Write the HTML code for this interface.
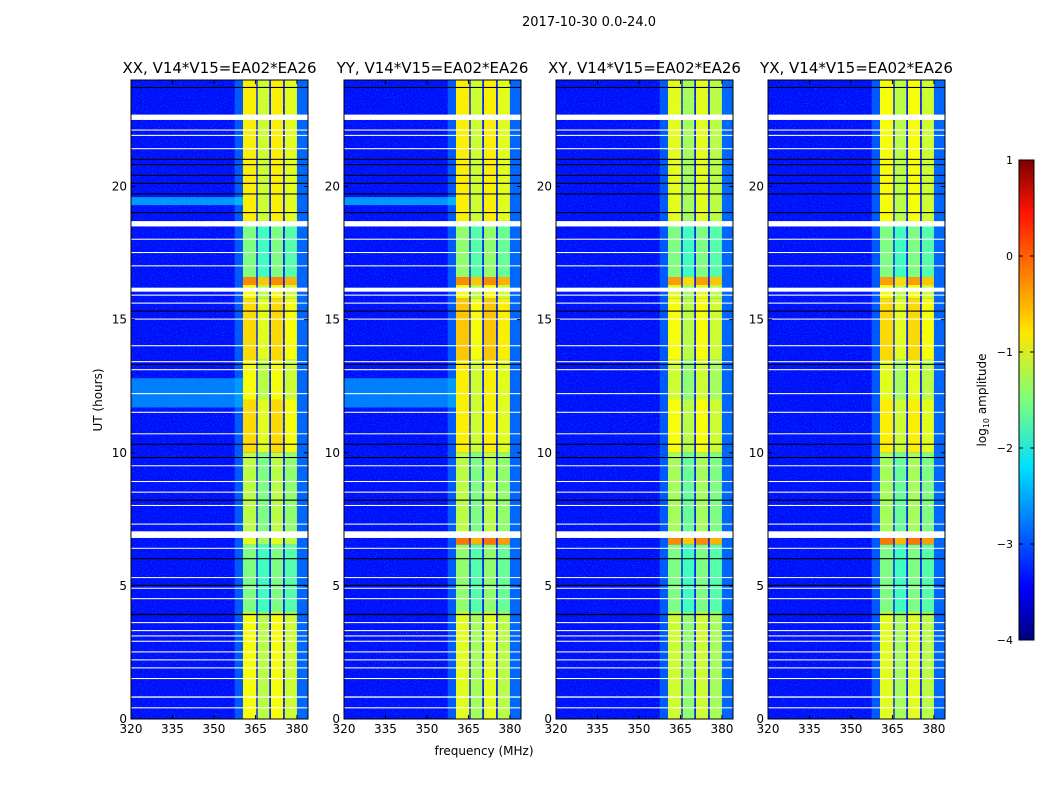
<!DOCTYPE html>
<html><head><meta charset="utf-8"><style>
body{margin:0;background:#fff;font-family:"Liberation Sans",sans-serif}
svg text{font-family:"DejaVu Sans","Liberation Sans",sans-serif}
</style></head><body>
<svg id="s" width="1050" height="800" xmlns="http://www.w3.org/2000/svg">
<defs>
<filter id="nz" x="0" y="0" width="100%" height="100%"><feTurbulence type="fractalNoise" baseFrequency="0.9" numOctaves="1" seed="3"/><feColorMatrix type="matrix" values="0 0 0 0 0.0  0 0 0 0 0.45  0 0 0 0 1  0 0 0 3 -1.6"/></filter>
<filter id="nzd" x="0" y="0" width="100%" height="100%"><feTurbulence type="fractalNoise" baseFrequency="0.8" numOctaves="1" seed="9"/><feColorMatrix type="matrix" values="0 0 0 0 0  0 0 0 0 0  0 0 0 0 0.5  0 0 0 3 -1.5"/></filter>
<linearGradient id="cbg" x1="0" y1="1" x2="0" y2="0">
<stop offset="0" stop-color="#00007f"/><stop offset="0.11" stop-color="#0000ff"/><stop offset="0.36" stop-color="#00e0ff"/><stop offset="0.5" stop-color="#7dff7a"/><stop offset="0.64" stop-color="#ffe600"/><stop offset="0.89" stop-color="#ff1400"/><stop offset="1" stop-color="#7f0000"/>
</linearGradient>
</defs>
<text x="589" y="26" font-size="13" text-anchor="middle">2017-10-30 0.0-24.0</text>
<text x="484" y="755" font-size="12" text-anchor="middle">frequency (MHz)</text>
<text transform="translate(102,400) rotate(-90)" font-size="12" text-anchor="middle">UT (hours)</text>
<g id="panels"></g>
<g>
<rect x="1019" y="160" width="15" height="480" fill="url(#cbg)" stroke="#000" stroke-width="1"/>
<g id="cbt"></g>
<text transform="translate(986,400) rotate(-90)" font-size="12" text-anchor="middle">log<tspan font-size="8" dy="3">10</tspan><tspan dy="-3"> amplitude</tspan></text>
</g>
</svg>
<script>
const titles=["XX, V14*V15=EA02*EA26","YY, V14*V15=EA02*EA26","XY, V14*V15=EA02*EA26","YX, V14*V15=EA02*EA26"];
const xTicks=[320,335,350,365,380];
const yTicks=[0,5,10,15,20];
const cbTicks=[-4,-3,-2,-1,0,1];
const subBands=[[360.5,365.3],[365.8,370.0],[370.6,375.0],[375.6,380.0]];
const segTimes=[0,4,6.55,6.85,7.7,10,12,13.5,15.8,16.3,16.6,18.7,24];
const levelsXX=[-1.0,-1.6,-1.1,-1.3,-1.3,-0.8,-1.0,-0.8,-1.0,-0.4,-1.6,-0.9];
const levelsYY=[-1.1,-1.5,-0.3,-1.3,-1.3,-0.9,-0.9,-0.7,-1.0,-0.4,-1.5,-0.9];
const levelsXY=[-1.2,-1.6,-0.4,-1.4,-1.4,-1.0,-1.2,-1.0,-1.1,-0.5,-1.6,-1.1];
const levelsYX=[-1.1,-1.6,-0.3,-1.4,-1.4,-0.9,-1.1,-0.8,-1.0,-0.5,-1.6,-1.0];
const subOffset=[0.1,-0.2,0.1,-0.1];
const cyanRows=[[11.7,12.8,-2.4],[19.3,19.6,-2.2]];
const whiteGaps=[[22.5,22.7],[18.5,18.7],[16.05,16.2],[6.8,7.05],[0.8,0.85],[0.4,0.44],[1.5,1.54],[1.9,1.94],[2.2,2.24],[2.5,2.54],[2.9,2.94],[3.1,3.14],[3.3,3.34],[3.6,3.64],[4.5,4.54],[4.9,4.93],[5.3,5.33],[6.4,6.43],[7.3,7.34],[8.0,8.04],[8.5,8.54],[8.9,8.94],[9.5,9.53],[10.7,10.73],[11.5,11.54],[12.2,12.24],[13.1,13.14],[13.4,13.44],[14.0,14.04],[15.0,15.04],[15.6,15.64],[15.9,15.94],[17.0,17.04],[17.5,17.54],[18.0,18.04],[21.4,21.44],[21.9,21.94],[22.1,22.14]];
const blackRows=[[23.7,23.74],[21.0,21.04],[20.8,20.84],[20.4,20.44],[20.1,20.14],[19.7,19.74],[19.0,19.04],[10.3,10.34],[9.8,9.84],[8.2,8.24],[6.0,6.04],[5.0,5.04],[3.9,3.95],[13.3,13.34],[15.3,15.34]];
const panelLevels=[levelsXX,levelsYY,levelsXY,levelsYX];
const lefts=[131,344,556,768], W=177, T=80, H=639, fmin=320, fmax=384, tmax=24;
const NS="http://www.w3.org/2000/svg";
function jet(v){let x=(v+4)/5;x=Math.max(0,Math.min(1,x));
 const r=Math.max(0,Math.min(1,1.5-Math.abs(4*x-3))),g=Math.max(0,Math.min(1,1.5-Math.abs(4*x-2))),b=Math.max(0,Math.min(1,1.5-Math.abs(4*x-1)));
 return `rgb(${Math.round(r*255)},${Math.round(g*255)},${Math.round(b*255)})`;}
function el(tag,attrs,parent){const e=document.createElementNS(NS,tag);for(const k in attrs)e.setAttribute(k,attrs[k]);parent.appendChild(e);return e;}
const root=document.getElementById('panels');
lefts.forEach((L,pi)=>{
 const xs=f=>L+(f-fmin)/(fmax-fmin)*W, ys=t=>T+H-(t/tmax)*H;
 const g=el('g',{},root);
 
 
 const bg=el('rect',{x:L,y:T,width:W,height:H,fill:jet(-3.3)},g);
 
 
 el('rect',{x:L,y:T,width:W,height:H,filter:'url(#nz)',opacity:0.55},g);
 el('rect',{x:L,y:T,width:W,height:H,filter:'url(#nzd)',opacity:0.5},g);
 el('rect',{x:xs(357.5),y:T,width:xs(360.5)-xs(357.5),height:H,fill:jet(-2.6),opacity:0.5},g);
 el('rect',{x:xs(380),y:T,width:xs(384)-xs(380),height:H,fill:jet(-2.6),opacity:0.6},g);
 if(pi===0||pi===1){cyanRows.forEach(c=>{const r=el('rect',{x:L,y:ys(c[1]),width:xs(360.5)-L,height:ys(c[0])-ys(c[1]),fill:jet(c[2]),opacity:0.6},g);
  
  });}
 const lv=panelLevels[pi];
 subBands.forEach((sb,si)=>{
  for(let k=0;k<lv.length;k++){
   const r=el('rect',{x:xs(sb[0]),y:ys(segTimes[k+1]),width:xs(sb[1])-xs(sb[0]),height:ys(segTimes[k])-ys(segTimes[k+1]),fill:jet(lv[k]+subOffset[si])},g);
   
   
  }
 });
 el('rect',{x:xs(360.5),y:T,width:xs(380)-xs(360.5),height:H,filter:'url(#nz)',opacity:0.2},g);
 blackRows.forEach(b=>{const r=el('rect',{x:L,y:ys(b[1]),width:W,height:Math.max(1,ys(b[0])-ys(b[1])),fill:'#000'},g);
  
  });
 whiteGaps.forEach(b=>{const r=el('rect',{x:L,y:ys(b[1]),width:W,height:Math.max(1,ys(b[0])-ys(b[1])),fill:'#fff'},g);
  
  });
 el('rect',{x:L,y:T,width:W,height:H,fill:'none',stroke:'#000','stroke-width':1},g);
 const tt=el('text',{x:L+W/2,y:T-7,'font-size':15,'text-anchor':'middle'},g);tt.textContent=titles[pi];
 
 
 xTicks.forEach(v=>{const x=xs(v);el('line',{x1:x,x2:x,y1:T+H,y2:T+H-4,stroke:'#000'},g);el('line',{x1:x,x2:x,y1:T,y2:T+4,stroke:'#000'},g);
  const t=el('text',{x:x,y:T+H+14,'font-size':12,'text-anchor':'middle'},g);t.textContent=v;
  
  });
 yTicks.forEach(v=>{const y=ys(v);el('line',{x1:L,x2:L+4,y1:y,y2:y,stroke:'#000'},g);el('line',{x1:L+W,x2:L+W-4,y1:y,y2:y,stroke:'#000'},g);
  const t=el('text',{x:L-4,y:y+4,'font-size':12,'text-anchor':'end'},g);t.textContent=v;
  
  });
});
const cb=document.getElementById('cbt');
cbTicks.forEach(v=>{const y=640-(v+4)/5*480;
 el('line',{x1:1019,x2:1023,y1:y,y2:y,stroke:'#000'},cb);el('line',{x1:1030,x2:1034,y1:y,y2:y,stroke:'#000'},cb);
 const t=el('text',{x:1013,y:y+4,'font-size':11,'text-anchor':'end'},cb);t.textContent=(v<0?'\u2212':'')+Math.abs(v);
 
 });
</script>
</body></html>
